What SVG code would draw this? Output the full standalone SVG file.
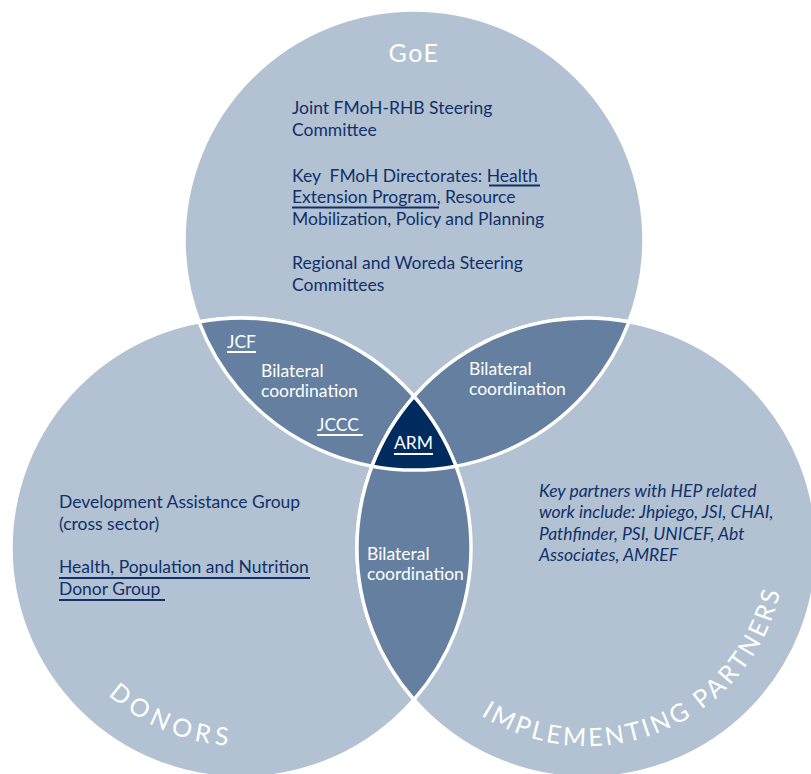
<svg xmlns="http://www.w3.org/2000/svg" width="811" height="774" viewBox="0 0 811 774">
<style>
.circle{fill:#b2c2d2;stroke:#fff;stroke-width:3.5}
.lens{fill:#647f9f;stroke:#fff;stroke-width:3.5}
.arm{fill:#002b5f;stroke:#fff;stroke-width:3.5}
.t{font-family:Lato,"Open Sans",sans-serif;font-size:17.5px;fill:#10306b}
.i{font-style:italic}
.w{font-family:Lato,"Open Sans",sans-serif;font-size:17.5px;fill:#fff}
.ul{stroke:#10306b;stroke-width:2}
.wul{stroke:#fff;stroke-width:2}
.title{font-family:Lato,"Open Sans",sans-serif;font-size:25px;fill:#fff;letter-spacing:3px}
</style>
<defs>
<path id="arcDonors" d="M89.3,675.3 A198,198 0 0 0 275.4,743"/>
<path id="arcPartners" d="M473.4,710.2 A198,198 0 0 0 782,582.4"/>
</defs>

<g id="goe">
<circle class="circle" cx="414" cy="240" r="230"/>
</g>
<g id="donors">
<circle class="circle" cx="241" cy="548" r="230"/>
</g>
<g id="partners">
<circle class="circle" cx="587" cy="548" r="230"/>
</g>

<g id="lens-goe-donors">
<path class="lens" d="M199,321.8 A230,230 0 0 1 456,466.2 A230,230 0 0 1 199,321.8 Z"/>
</g>
<g id="lens-goe-partners">
<path class="lens" d="M629,321.8 A230,230 0 0 0 372,466.2 A230,230 0 0 0 629,321.8 Z"/>
</g>
<g id="lens-donors-partners">
<path class="lens" d="M414,396.4 A230,230 0 0 1 414,699.6 A230,230 0 0 1 414,396.4 Z"/>
</g>
<g id="arm">
<path class="arm" d="M414,396.4 A230,230 0 0 1 456,466.2 A230,230 0 0 1 372,466.2 A230,230 0 0 1 414,396.4 Z"/>
<text class="w" x="394" y="449">ARM</text>
<line class="wul" x1="394" y1="454" x2="433" y2="454"/>
</g>

<g id="goe-text">
<text class="title" x="414" y="62" text-anchor="middle" style="letter-spacing:1.5px">GoE</text>
<text class="t" x="292" y="114">Joint FMoH-RHB Steering</text>
<text class="t" x="292" y="136">Committee</text>
<text class="t" x="292" y="182" xml:space="preserve">Key  FMoH Directorates: Health</text>
<text class="t" x="292" y="203">Extension Program, Resource</text>
<text class="t" x="292" y="225">Mobilization, Policy and Planning</text>
<text class="t" x="292" y="269">Regional and Woreda Steering</text>
<text class="t" x="292" y="291">Committees</text>
<line class="ul" x1="489" y1="185.5" x2="540" y2="185.5"/>
<line class="ul" x1="292" y1="207.5" x2="439" y2="207.5"/>
</g>

<g id="lens-goe-donors-text">
<text class="w" x="227" y="348">JCF</text>
<line class="wul" x1="227" y1="352" x2="256" y2="352"/>
<text class="w" x="261" y="377">Bilateral</text>
<text class="w" x="261" y="397">coordination</text>
<text class="w" x="317" y="431">JCCC</text>
<line class="wul" x1="317" y1="435" x2="363" y2="435"/>
</g>

<g id="lens-goe-partners-text">
<text class="w" x="469" y="375">Bilateral</text>
<text class="w" x="469" y="395">coordination</text>
</g>

<g id="lens-donors-partners-text">
<text class="w" x="367" y="560">Bilateral</text>
<text class="w" x="367" y="580">coordination</text>
</g>

<g id="donors-text">
<text class="t" x="59" y="508">Development Assistance Group</text>
<text class="t" x="59" y="530">(cross sector)</text>
<text class="t" x="59" y="573">Health, Population and Nutrition</text>
<text class="t" x="59" y="595">Donor Group</text>
<line class="ul" x1="59" y1="578" x2="310" y2="578"/>
<line class="ul" x1="59" y1="600" x2="165" y2="600"/>
<text class="title" style="letter-spacing:5px"><textPath href="#arcDonors" startOffset="27">DONORS</textPath></text>
</g>

<g id="partners-text">
<text class="t i" x="539" y="497">Key partners with HEP related</text>
<text class="t i" x="539" y="518">work include: Jhpiego, JSI, CHAI,</text>
<text class="t i" x="539" y="540">Pathfinder, PSI, UNICEF, Abt</text>
<text class="t i" x="539" y="561">Associates, AMREF</text>
<text class="title"><textPath href="#arcPartners" startOffset="9">IMPLEMENTING PARTNERS</textPath></text>
</g>
</svg>
